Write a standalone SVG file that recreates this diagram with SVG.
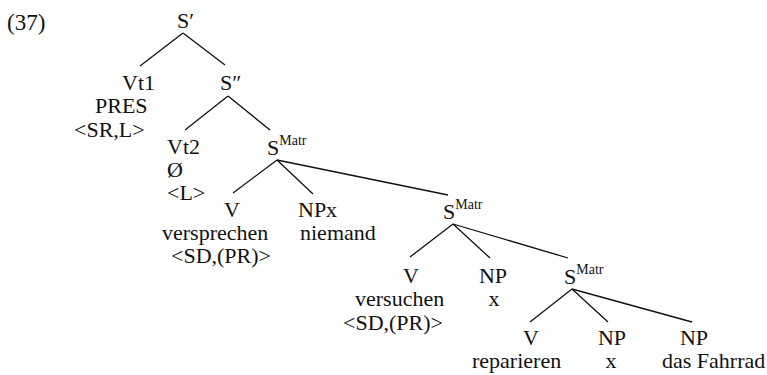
<svg xmlns="http://www.w3.org/2000/svg" width="767" height="375" viewBox="0 0 767 375">
<style>
text{font-family:"Liberation Serif","Times New Roman",serif;font-size:22px;fill:#111}
.sup{font-size:14px}
.m{text-anchor:middle}
#connectors line{stroke:#111;stroke-width:1.3;fill:none}
</style>
<rect width="767" height="375" fill="#fff"/>
<text x="7" y="30" style="font-size:23px">(37)</text>
<g id="connectors">
<line x1="183" y1="33" x2="140" y2="66"/>
<line x1="183" y1="33" x2="225" y2="65"/>
<line x1="228" y1="96" x2="185" y2="130"/>
<line x1="228" y1="96" x2="270" y2="130"/>
<line x1="277" y1="160" x2="233" y2="193"/>
<line x1="277" y1="160" x2="313" y2="194"/>
<line x1="277" y1="160" x2="448" y2="195"/>
<line x1="453" y1="224" x2="410" y2="257"/>
<line x1="453" y1="224" x2="490" y2="258"/>
<line x1="453" y1="224" x2="568" y2="258"/>
<line x1="572" y1="289" x2="530" y2="322"/>
<line x1="572" y1="289" x2="608" y2="322"/>
<line x1="572" y1="289" x2="692" y2="322"/>
</g>
<g id="n-Sbar"><text x="177" y="28">S′</text></g>
<g id="n-Vt1"><text x="122" y="90">Vt1</text><text x="95" y="113">PRES</text><text x="74" y="137">&lt;SR,L&gt;</text></g>
<g id="n-Sdbar"><text x="220" y="90">S″</text></g>
<g id="n-Vt2"><text x="167" y="154">Vt2</text><text x="167" y="177">Ø</text><text x="167" y="200">&lt;L&gt;</text></g>
<g id="n-SMatr1"><text x="267" y="155">S<tspan class="sup" dy="-10">Matr</tspan></text></g>
<g id="n-V1"><text class="m" x="232" y="217">V</text><text x="162" y="240">versprechen</text><text x="171" y="263">&lt;SD,(PR)&gt;</text></g>
<g id="n-NPx"><text x="298" y="217">NPx</text><text x="300" y="240">niemand</text></g>
<g id="n-SMatr2"><text x="443" y="219">S<tspan class="sup" dy="-10">Matr</tspan></text></g>
<g id="n-V2"><text class="m" x="411" y="283">V</text><text x="355" y="306">versuchen</text><text x="343" y="330">&lt;SD,(PR)&gt;</text></g>
<g id="n-NP2"><text class="m" x="493" y="283">NP</text><text class="m" x="494" y="306">x</text></g>
<g id="n-SMatr3"><text x="564" y="284">S<tspan class="sup" dy="-10">Matr</tspan></text></g>
<g id="n-V3"><text class="m" x="531" y="345">V</text><text x="472" y="368">reparieren</text></g>
<g id="n-NP3"><text class="m" x="612" y="345">NP</text><text class="m" x="611" y="368">x</text></g>
<g id="n-NP4"><text class="m" x="694" y="345">NP</text><text x="662" y="368">das Fahrrad</text></g>
</svg>
